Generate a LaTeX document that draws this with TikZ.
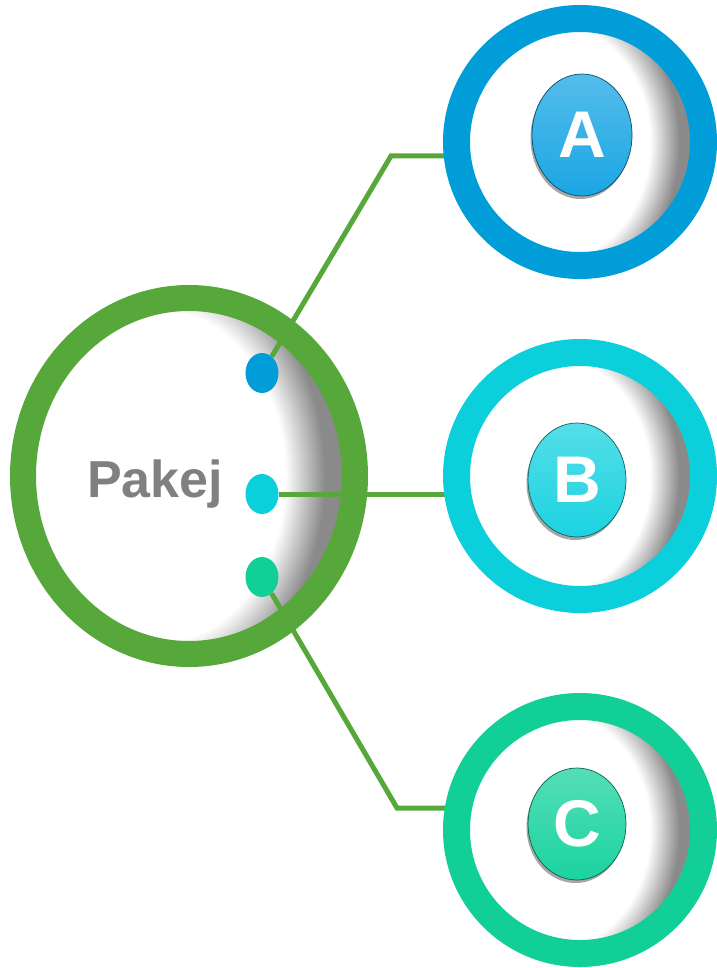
\documentclass[tikz,border=0pt]{standalone}
\usepackage{fontspec}
\setmainfont{Liberation Sans}
\usetikzlibrary{shapes.geometric,shadows}

\definecolor{linegreen}{HTML}{56A83B}
\definecolor{colA}{HTML}{009DD8}
\definecolor{colB}{HTML}{0BCFDA}
\definecolor{colC}{HTML}{11CF97}
\definecolor{ballA}{HTML}{1BA6E4}
\definecolor{ballB}{HTML}{1CD3E0}
\definecolor{ballC}{HTML}{1BD3A0}
\definecolor{textgray}{HTML}{808080}

\pgfdeclareradialshading{glow}{\pgfpoint{0bp}{0bp}}{color(0bp)=(white); color(19bp)=(white); color(25bp)=(black!46); color(50bp)=(black!46)}

\pgfdeclarelayer{front}
\pgfsetlayers{main,front}

\tikzset{
  ring/.style={draw=#1, ellipse, line width=27pt, fill=white, inner sep=0pt},
  glass/.style 2 args={path picture={
    \fill[black!46] (path picture bounding box.south west) rectangle (path picture bounding box.north east);
    \shade[shading=glow] ([shift={(-#1,-#2)}]path picture bounding box.south west) rectangle ([shift={(-#1,#2)}]path picture bounding box.north east);
  }},
  ball/.style={ellipse, draw=#1!45!black, line width=0.7pt, top color=#1!75!white, bottom color=#1,
    inner sep=0pt, text=white, font=\fontsize{66}{66}\selectfont\bfseries,
    drop shadow={shadow xshift=-1.5pt, shadow yshift=-3pt, opacity=0.35, fill=black}},
  dot/.style={ellipse, fill=#1, minimum width=33pt, minimum height=40pt, inner sep=0pt},
  link/.style={draw=linegreen, line width=5pt},
}

\begin{document}
\begin{tikzpicture}[x=1pt, y=1pt]
  \useasboundingbox (0,0) rectangle (716,-968);

  % Main circle and its label
  \node[ring=linegreen, line width=26pt, minimum width=332pt, minimum height=356pt, glass={30pt}{40pt}] (pakej) at (189,-476) {};
  \node[text=textgray, font=\fontsize{52}{52}\selectfont\bfseries, anchor=base] (title) at (155,-497) {Pakej};

  % Outer circles (front layer, so the links end below them)
  \begin{pgfonlayer}{front}
    \node[ring=colA, minimum width=247pt, minimum height=247pt, glass={24pt}{30pt}] (ringA) at (580,-142) {};
    \node[ring=colB, minimum width=247pt, minimum height=247pt, glass={24pt}{30pt}] (ringB) at (580,-476) {};
    \node[ring=colC, minimum width=247pt, minimum height=247pt, glass={24pt}{30pt}] (ringC) at (580,-830) {};

    \node[ball=ballA, minimum width=100pt, minimum height=122pt] (ballA) at (582,-135) {A};
    \node[ball=ballB, minimum width=98pt, minimum height=114pt] (ballB) at (577,-480) {B};
    \node[ball=ballC, minimum width=98pt, minimum height=112pt] (ballC) at (577,-824) {C};
  \end{pgfonlayer}

  % Small dots on the main circle
  \node[dot=colA] (dotA) at (262,-373) {};
  \node[dot=colB] (dotB) at (262,-494) {};
  \node[dot=colC] (dotC) at (262,-577) {};

  % Bends of the links
  \coordinate (kneeA) at (391,-156);
  \coordinate (kneeC) at (397,-808);

  % Links
  \draw[link] (dotA) -- (kneeA) -- (kneeA -| ringA.center);
  \draw[link] (dotB) -- (dotB -| ringB.center);
  \draw[link] (dotC) -- (kneeC) -- (kneeC -| ringC.center);
\end{tikzpicture}
\end{document}
